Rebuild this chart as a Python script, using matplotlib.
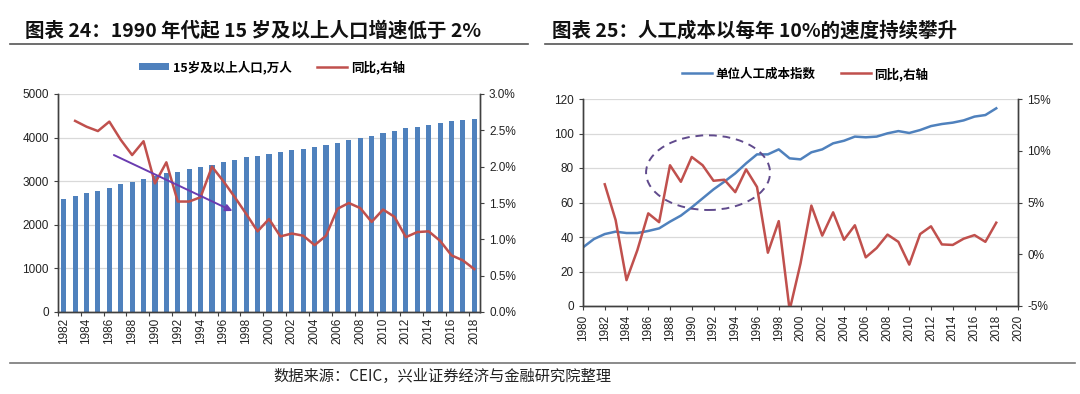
import matplotlib
matplotlib.use('Agg')
import matplotlib.pyplot as plt
from matplotlib.patches import Ellipse
from matplotlib.lines import Line2D
from matplotlib.ticker import FuncFormatter, MultipleLocator

plt.rcParams['font.family'] = ['Liberation Sans', 'Noto Sans CJK SC', 'DejaVu Sans']

# ============================================================
# Data
# ============================================================
# Chart 24: population aged 15+ (bars) and YoY (right axis, %)
pop_years = list(range(1982, 2019))
pop = [2590, 2650, 2720, 2780, 2850, 2930, 2990, 3060, 3120, 3180,
       3220, 3270, 3320, 3380, 3450, 3490, 3550, 3580, 3630, 3680,
       3710, 3740, 3780, 3830, 3880, 3940, 4000, 4040, 4110, 4160,
       4210, 4250, 4290, 4340, 4370, 4400, 4420]
pop_yoy_years = list(range(1983, 2019))
pop_yoy = [2.63, 2.55, 2.49, 2.62, 2.37, 2.16, 2.35, 1.77, 2.06, 1.52,
           1.52, 1.58, 2.00, 1.80, 1.58, 1.35, 1.11, 1.28, 1.04, 1.08,
           1.05, 0.92, 1.05, 1.42, 1.50, 1.43, 1.24, 1.41, 1.31, 1.03,
           1.10, 1.11, 0.98, 0.78, 0.71, 0.59]

# Chart 25: unit labour cost index and YoY (right axis, %)
cost_years = list(range(1980, 2019))
cost_index = [34.0, 38.8, 41.7, 43.1, 42.3, 42.3, 43.5, 45.0, 48.9, 52.4,
              57.2, 62.4, 67.6, 72.1, 76.9, 82.7, 87.9, 87.9, 90.8, 85.6,
              85.0, 89.1, 90.8, 94.3, 95.8, 98.2, 97.8, 98.2, 100.1, 101.4,
              100.3, 102.0, 104.3, 105.5, 106.3, 107.6, 109.8, 110.7, 114.6]
cost_yoy_years = list(range(1982, 2019))
cost_yoy = [6.76, 3.3, -2.5, 0.4, 3.95, 3.1, 8.6, 7.0, 9.4, 8.6,
            7.1, 7.2, 6.0, 8.2, 6.5, 0.15, 3.2, -5.4, -0.9, 4.7,
            1.8, 4.05, 1.4, 2.8, -0.3, 0.6, 1.9, 1.2, -1.0, 1.95,
            2.7, 0.95, 0.9, 1.5, 1.85, 1.2, 3.05]

# annotations
arrow_start = (1986.4, 2.16)
arrow_end = (1996.8, 1.39)
ellipse_center = (1991.5, 77.3)
ellipse_size = (11.4, 43.3)

BLUE = '#4f81bd'
RED = '#c0504d'
GRID = '#d9d9d9'
SPINE = '#404040'
W, H = 1080, 394
CJK = ['Noto Sans CJK SC', 'DejaVu Sans']


def px(x, y):
    return x / W, 1 - y / H


def style_axes(ax, ax2):
    ax.spines['top'].set_visible(False)
    ax2.spines['top'].set_visible(False)
    for ax_ in (ax, ax2):
        for s in ('left', 'right', 'bottom'):
            ax_.spines[s].set_color(SPINE)
            ax_.spines[s].set_linewidth(1.0)
    ax.grid(True, axis='y', color=GRID, linewidth=0.9)
    ax.set_axisbelow(True)
    ax.tick_params(axis='y', length=3, labelsize=8.5, colors=SPINE, labelcolor='#222222')
    ax2.tick_params(axis='y', length=3, labelsize=8.5, colors=SPINE, labelcolor='#222222')
    ax.tick_params(axis='x', which='both', labelsize=8.5, labelrotation=90,
                   colors=SPINE, labelcolor='#222222')


fig = plt.figure(figsize=(W / 100, H / 100), dpi=100)

# ============================================================
# Chart 24
# ============================================================
ax = fig.add_axes([58 / W, (H - 312) / H, 422 / W, 218 / H])
ax2 = ax.twinx()
bars = ax.bar(pop_years, pop, width=0.45, color=BLUE, zorder=2,
              label='15岁及以上人口,万人')
line1, = ax2.plot(pop_yoy_years, pop_yoy, color=RED, linewidth=1.8,
                  label='同比,右轴')
ax.set_xlim(pop_years[0] - 0.5, pop_years[-1] + 0.5)
ax.set_ylim(0, 5000)
ax.yaxis.set_major_locator(MultipleLocator(1000))
ax2.set_ylim(0, 3.0)
ax2.yaxis.set_major_locator(MultipleLocator(0.5))
ax2.yaxis.set_major_formatter(FuncFormatter(lambda v, p: f'{v:.1f}%'))
# ticks at category boundaries, labels under even years
ax.set_xticks([y + 0.5 for y in range(1981, 2019, 2)])
ax.set_xticklabels([])
ax.set_xticks(list(range(1982, 2019, 2)), minor=True)
ax.set_xticklabels([str(y) for y in range(1982, 2019, 2)], minor=True)
ax.tick_params(axis='x', which='major', length=3)
ax.tick_params(axis='x', which='minor', length=0, pad=4)
style_axes(ax, ax2)
ax2.annotate('', xy=arrow_end, xytext=arrow_start,
             arrowprops=dict(arrowstyle='-|>', color='#6a3cb0', lw=1.4,
                             mutation_scale=10, shrinkA=0, shrinkB=0))

fig.legend([bars, line1], ['15岁及以上人口,万人', '同比,右轴'],
           loc='center', bbox_to_anchor=px(272, 67), ncol=2, frameon=False,
           prop=dict(family=CJK, weight='bold', size=9),
           handlelength=2.4, handleheight=0.45, columnspacing=2.0,
           handletextpad=0.3)

# ============================================================
# Chart 25
# ============================================================
bx = fig.add_axes([583 / W, (H - 306) / H, 435 / W, 207 / H])
bx2 = bx.twinx()
l_cost, = bx.plot(cost_years, cost_index, color=BLUE, linewidth=1.8)
l_yoy, = bx2.plot(cost_yoy_years, cost_yoy, color=RED, linewidth=1.8)
bx.set_xlim(1980, 2020)
bx.set_ylim(0, 120)
bx.yaxis.set_major_locator(MultipleLocator(20))
bx2.set_ylim(-5, 15)
bx2.yaxis.set_major_locator(MultipleLocator(5))
bx2.yaxis.set_major_formatter(FuncFormatter(lambda v, p: f'{v:.0f}%'))
bx.set_xticks(list(range(1980, 2021, 2)))
bx.set_xticklabels([str(y) for y in range(1980, 2021, 2)])
bx.tick_params(axis='x', length=3)
style_axes(bx, bx2)
bx.add_patch(Ellipse(ellipse_center, ellipse_size[0], ellipse_size[1],
                     fill=False, edgecolor='#604a8c', linestyle=(0, (4, 3)),
                     linewidth=1.4, zorder=5))

fig.legend([l_cost, l_yoy], ['单位人工成本指数', '同比,右轴'],
           loc='center', bbox_to_anchor=px(805, 74), ncol=2, frameon=False,
           prop=dict(family=CJK, weight='bold', size=9),
           handlelength=2.4, columnspacing=2.0, handletextpad=0.3)

# ============================================================
# Titles, rules, source
# ============================================================
fig.text(*px(25, 31), '图表 24：1990 年代起 15 岁及以上人口增速低于 2%',
         family=CJK, weight='bold', size=14, va='center', ha='left', color='#111111')
fig.text(*px(552, 31), '图表 25：人工成本以每年 10%的速度持续攀升',
         family=CJK, weight='bold', size=14, va='center', ha='left', color='#111111')
for x0, x1 in ((10, 528), (545, 1072)):
    fig.add_artist(Line2D([x0 / W, x1 / W], [1 - 44 / H] * 2, color='#555555', linewidth=1.2))
fig.add_artist(Line2D([10 / W, 1075 / W], [1 - 363 / H] * 2, color='#777777', linewidth=1.2))
fig.text(*px(273, 376), '数据来源：CEIC，兴业证券经济与金融研究院整理',
         family=CJK, size=11, va='center', ha='left', color='#222222')

fig.savefig('out.png', dpi=100)
